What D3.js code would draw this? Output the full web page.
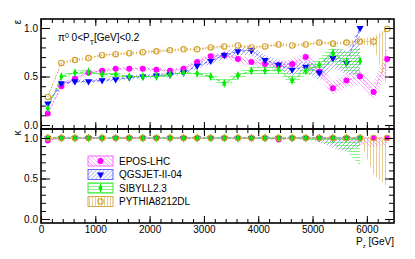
<!DOCTYPE html>
<html>
<head>
<meta charset="utf-8">
<script src="https://cdn.jsdelivr.net/npm/d3@7"></script>
<style>
  body { margin: 0; background: #fff; }
  text { font-family: 'Liberation Sans', Arial, sans-serif; fill: #000; }
</style>
</head>
<body>
<div id="chart"></div>
<script>
// bin centres along P_z [GeV]
const binCenters = [125, 375, 625, 875, 1125, 1375, 1625, 1875, 2125, 2375, 2625, 2875, 3125,
  3375, 3625, 3875, 4125, 4375, 4625, 4875, 5125, 5375, 5625, 5875, 6125, 6375];

// efficiency (top panel)
const eposEff = [0.12, 0.40, 0.48, 0.54, 0.56, 0.58, 0.58, 0.58, 0.57, 0.56, 0.58, 0.65, 0.71,
  0.72, 0.68, 0.65, 0.63, 0.62, 0.63, 0.70, 0.55, 0.38, 0.46, 0.50, 0.34, 0.68];
const eposEffErr = [0.02, 0.02, 0.02, 0.02, 0.02, 0.02, 0.02, 0.02, 0.02, 0.02, 0.02, 0.03, 0.03,
  0.03, 0.04, 0.04, 0.04, 0.04, 0.05, 0.05, 0.06, 0.07, 0.07, 0.08, 0.09, 0.12];
const qgsEff = [0.22, 0.43, 0.45, 0.45, 0.46, 0.47, 0.49, 0.50, 0.51, 0.52, 0.54, 0.61, 0.66,
  0.72, 0.76, 0.77, 0.67, 0.62, 0.57, 0.60, 0.54, 0.69, 0.64, 1.00];
const qgsEffErr = [0.02, 0.02, 0.02, 0.02, 0.02, 0.02, 0.02, 0.02, 0.02, 0.02, 0.02, 0.03, 0.03,
  0.04, 0.04, 0.05, 0.05, 0.05, 0.06, 0.06, 0.08, 0.10, 0.12, 0.50];
const sibEff = [0.17, 0.50, 0.54, 0.55, 0.52, 0.52, 0.50, 0.50, 0.50, 0.52, 0.54, 0.53, 0.50,
  0.43, 0.51, 0.56, 0.56, 0.57, 0.46, 0.56, 0.62, 0.74, 0.65, 0.66];
const sibEffErr = [0.02, 0.02, 0.02, 0.02, 0.02, 0.02, 0.02, 0.02, 0.02, 0.02, 0.02, 0.02, 0.03,
  0.04, 0.04, 0.04, 0.04, 0.04, 0.05, 0.05, 0.07, 0.09, 0.11, 0.14];
const pyEff = [0.29, 0.64, 0.67, 0.69, 0.72, 0.73, 0.74, 0.75, 0.76, 0.77, 0.78, 0.78, 0.80,
  0.81, 0.82, 0.80, 0.81, 0.83, 0.82, 0.83, 0.85, 0.84, 0.85, 0.86, 0.86, 0.99];
const pyEffErr = [0.015, 0.015, 0.015, 0.015, 0.015, 0.015, 0.015, 0.015, 0.015, 0.015, 0.015,
  0.015, 0.015, 0.015, 0.015, 0.015, 0.015, 0.015, 0.015, 0.015, 0.015, 0.015, 0.02, 0.03, 0.05, 0.60];

// kappa (bottom panel)
const eposKap = [0.97, 1, 1, 1, 1, 1, 1, 1, 1, 1, 1, 1, 1, 1, 1, 1, 1, 0.98, 1, 1, 1, 1, 1, 1, 1, 1];
const eposKapErr = [0.01, 0.01, 0.01, 0.01, 0.01, 0.01, 0.01, 0.01, 0.01, 0.01, 0.01, 0.01, 0.01,
  0.01, 0.01, 0.01, 0.01, 0.01, 0.01, 0.01, 0.02, 0.03, 0.05, 0.08, 0.11, 0.08];
const qgsKap = [1, 1, 1, 1, 1, 1, 1, 1, 1, 1, 1, 1, 1, 1, 1, 1, 1, 1, 1, 1, 1, 1, 1, 1];
const qgsKapErr = [0.01, 0.01, 0.01, 0.01, 0.01, 0.01, 0.01, 0.01, 0.01, 0.01, 0.01, 0.01, 0.01,
  0.01, 0.01, 0.01, 0.01, 0.01, 0.01, 0.02, 0.05, 0.12, 0.17, 0.10];
const sibKap = [1, 1, 1, 1, 1, 1, 1, 1, 1, 1, 1, 1, 1, 1, 1, 1, 1, 1, 1, 1, 1, 1, 1, 1];
const sibKapErr = [0.01, 0.01, 0.01, 0.01, 0.01, 0.01, 0.01, 0.01, 0.01, 0.01, 0.01, 0.01, 0.01,
  0.01, 0.01, 0.01, 0.01, 0.01, 0.01, 0.02, 0.04, 0.08, 0.16, 0.34];
const pyKap = [1, 1, 1, 1, 1, 1, 1, 1, 1, 1, 1, 1, 1, 1, 1, 1, 1, 1, 1, 1, 1, 1, 1, 1, 1, 1];
const pyKapErr = [0.01, 0.01, 0.01, 0.01, 0.01, 0.01, 0.01, 0.01, 0.01, 0.01, 0.01, 0.01, 0.01,
  0.01, 0.01, 0.01, 0.01, 0.01, 0.01, 0.01, 0.01, 0.01, 0.01, 0.03, 0.45, 0.60];

const legendNames = ['EPOS-LHC', 'QGSJET-II-04', 'SIBYLL2.3', 'PYTHIA8212DL'];
const xTicks = [0, 1000, 2000, 3000, 4000, 5000, 6000];
const yTicks = [0, 0.5, 1.0];

const FRAME = { left: 41, right: 394, top: 19, mid: 129, bottom: 223 };
const FONT = "'Liberation Sans', Arial, sans-serif";

const series = [
  { name: legendNames[0], color: '#ff00ff', band: '#ff66ff', pat: 'hatchEpos', marker: 'circle', dash: '2,2',
    eff: eposEff, effErr: eposEffErr, kap: eposKap, kapErr: eposKapErr },
  { name: legendNames[1], color: '#0000ff', band: '#6666ff', pat: 'hatchQgs', marker: 'triangle', dash: '3,2',
    eff: qgsEff, effErr: qgsEffErr, kap: qgsKap, kapErr: qgsKapErr },
  { name: legendNames[2], color: '#00ee00', band: '#33ee33', pat: 'hatchSib', marker: 'diamond', dash: '4,2',
    eff: sibEff, effErr: sibEffErr, kap: sibKap, kapErr: sibKapErr },
  { name: legendNames[3], color: '#d4a02c', band: '#d8aa44', pat: 'hatchPy', marker: 'open', dash: '1.2,2',
    eff: pyEff, effErr: pyEffErr, kap: pyKap, kapErr: pyKapErr }
];

const svg = d3.select('#chart').append('svg').attr('width', 415).attr('height', 259);
const defs = svg.append('defs');

// hatch patterns for the error bands
function addPattern(id, color, size, line) {
  const p = defs.append('pattern').attr('id', id)
    .attr('patternUnits', 'userSpaceOnUse').attr('width', size).attr('height', size);
  p.append('path').attr('d', line).attr('stroke', color).attr('stroke-width', 0.8)
    .attr('stroke-opacity', 0.75).attr('fill', 'none');
}
addPattern('hatchEpos', '#ff66ff', 4, 'M-1,-1 L5,5 M-1,3 L1,5 M3,-1 L5,1');
addPattern('hatchQgs', '#6666ff', 4, 'M-1,5 L5,-1 M-1,1 L1,-1 M3,5 L5,3');
addPattern('hatchSib', '#33ee33', 3, 'M0,1.5 L3,1.5');
addPattern('hatchPy', '#d8aa44', 3, 'M1.5,0 L1.5,3');

const x = d3.scaleLinear().domain([0, 6500]).range([FRAME.left, FRAME.right]);
const yTop = d3.scaleLinear().domain([-0.041, 1.093]).range([FRAME.mid, FRAME.top]);
const yBot = d3.scaleLinear().domain([-0.049, 1.111]).range([FRAME.bottom, FRAME.mid]);

function drawMarker(g, s, cx, cy) {
  if (s.marker === 'circle') {
    g.append('circle').attr('cx', cx).attr('cy', cy).attr('r', 3).attr('fill', s.color);
  } else if (s.marker === 'open') {
    g.append('circle').attr('cx', cx).attr('cy', cy).attr('r', 2.7)
      .attr('fill', 'none').attr('stroke', s.color).attr('stroke-width', 1.1);
  } else if (s.marker === 'triangle') {
    g.append('path').attr('d', d3.symbol(d3.symbolTriangle, 22)())
      .attr('transform', 'translate(' + cx + ',' + cy + ') rotate(180)').attr('fill', s.color);
  } else {
    g.append('line').attr('x1', cx).attr('x2', cx).attr('y1', cy - 4).attr('y2', cy + 4)
      .attr('stroke', s.color).attr('stroke-width', 1);
    g.append('path').attr('d', d3.symbol(d3.symbolDiamond, 16)())
      .attr('transform', 'translate(' + cx + ',' + cy + ')').attr('fill', s.color);
  }
}

function drawPanel(y, top, bottom, valKey, errKey, clipId) {
  defs.append('clipPath').attr('id', clipId).append('rect')
    .attr('x', FRAME.left).attr('y', top).attr('width', FRAME.right - FRAME.left).attr('height', bottom - top);
  const g = svg.append('g').attr('clip-path', 'url(#' + clipId + ')');

  series.forEach((s) => {
    const pts = s[valKey].map((v, i) => ({ x: binCenters[i], v: v, e: s[errKey][i] }));
    // error band (upper edge capped at 1)
    g.append('path').datum(pts)
      .attr('d', d3.area().x((d) => x(d.x)).y0((d) => y(d.v - d.e)).y1((d) => y(Math.min(d.v + d.e, 1))))
      .attr('fill', 'url(#' + s.pat + ')').attr('stroke', 'none');
    // connecting line
    g.append('path').datum(pts)
      .attr('d', d3.line().x((d) => x(d.x)).y((d) => y(d.v)))
      .attr('fill', 'none').attr('stroke', s.band).attr('stroke-width', 1)
      .attr('stroke-dasharray', s.dash);
  });
  series.forEach((s) => {
    s[valKey].forEach((v, i) => drawMarker(g, s, x(binCenters[i]), y(v)));
  });

  // axes, ROOT style ticks pointing inward
  const minorY = d3.range(0, 1.05, 0.1);
  const minorX = d3.range(0, 6500, 200);
  const axes = svg.append('g').attr('class', 'axes');
  axes.append('g').attr('transform', 'translate(' + FRAME.left + ',0)')
    .call(d3.axisLeft(y).tickValues(yTicks).tickSize(-9).tickSizeOuter(0).tickPadding(3).tickFormat(d3.format('.1f')));
  axes.append('g').attr('transform', 'translate(' + FRAME.left + ',0)')
    .call(d3.axisLeft(y).tickValues(minorY).tickSize(-5).tickSizeOuter(0).tickFormat(''));
  axes.append('g').attr('transform', 'translate(' + FRAME.right + ',0)')
    .call(d3.axisRight(y).tickValues(yTicks).tickSize(-9).tickSizeOuter(0).tickFormat(''));
  axes.append('g').attr('transform', 'translate(' + FRAME.right + ',0)')
    .call(d3.axisRight(y).tickValues(minorY).tickSize(-5).tickSizeOuter(0).tickFormat(''));
  axes.append('g').attr('transform', 'translate(0,' + top + ')')
    .call(d3.axisTop(x).tickValues(xTicks).tickSize(-7).tickSizeOuter(0).tickFormat(''));
  axes.append('g').attr('transform', 'translate(0,' + top + ')')
    .call(d3.axisTop(x).tickValues(minorX).tickSize(-4).tickSizeOuter(0).tickFormat(''));
  axes.append('g').attr('transform', 'translate(0,' + bottom + ')')
    .call(d3.axisBottom(x).tickValues(xTicks).tickSize(-7).tickSizeOuter(0).tickFormat(''));
  axes.append('g').attr('transform', 'translate(0,' + bottom + ')')
    .call(d3.axisBottom(x).tickValues(minorX).tickSize(-4).tickSizeOuter(0).tickFormat(''));
  axes.selectAll('.domain').remove();
  axes.selectAll('.tick line').attr('stroke', '#000');
  axes.selectAll('text').attr('font-size', 10).attr('font-family', FONT);

  svg.append('rect').attr('x', FRAME.left).attr('y', top)
    .attr('width', FRAME.right - FRAME.left).attr('height', bottom - top)
    .attr('fill', 'none').attr('stroke', '#000').attr('stroke-width', 1.6);
}

drawPanel(yTop, FRAME.top, FRAME.mid, 'eff', 'effErr', 'clipTop');
drawPanel(yBot, FRAME.mid, FRAME.bottom, 'kap', 'kapErr', 'clipBot');

// x tick labels under the lower panel
svg.append('g').attr('transform', 'translate(0,' + FRAME.bottom + ')')
  .call(d3.axisBottom(x).tickValues(xTicks).tickSize(0).tickPadding(3).tickFormat(d3.format('d')))
  .call((g) => g.select('.domain').remove())
  .selectAll('text').attr('font-size', 10).attr('font-family', FONT);

// axis titles
svg.append('text').attr('transform', 'translate(17,22) rotate(-90)').attr('text-anchor', 'middle')
  .attr('dy', '0.35em').attr('font-size', 10).text('ε');
svg.append('text').attr('transform', 'translate(17,133) rotate(-90)').attr('text-anchor', 'middle')
  .attr('dy', '0.35em').attr('font-size', 10).text('κ');

const xt = svg.append('text').attr('x', 394).attr('y', 245).attr('text-anchor', 'end').attr('font-size', 10);
xt.append('tspan').text('P');
xt.append('tspan').attr('baseline-shift', 'sub').attr('font-size', 6).text('z');
xt.append('tspan').text(' [GeV]');

// selection annotation
const ann = svg.append('text').attr('x', 58).attr('y', 41).attr('font-size', 10);
ann.append('tspan').text('π');
ann.append('tspan').attr('baseline-shift', 'super').attr('font-size', 7).text('0');
ann.append('tspan').text(' 0<P');
ann.append('tspan').attr('baseline-shift', 'sub').attr('font-size', 7).text('T');
ann.append('tspan').text('[GeV]<0.2');

// legend
const legend = svg.append('g').attr('transform', 'translate(88,161)');
series.forEach((s, i) => {
  const row = legend.append('g').attr('transform', 'translate(0,' + (i * 13.5) + ')');
  row.append('rect').attr('x', 0).attr('y', -5).attr('width', 25).attr('height', 10)
    .attr('fill', 'url(#' + s.pat + ')').attr('stroke', s.band).attr('stroke-width', 1);
  drawMarker(row, s, 12.5, 0);
  row.append('text').attr('x', 31).attr('y', 3.5).attr('font-size', 10).text(s.name);
});
</script>
</body>
</html>
